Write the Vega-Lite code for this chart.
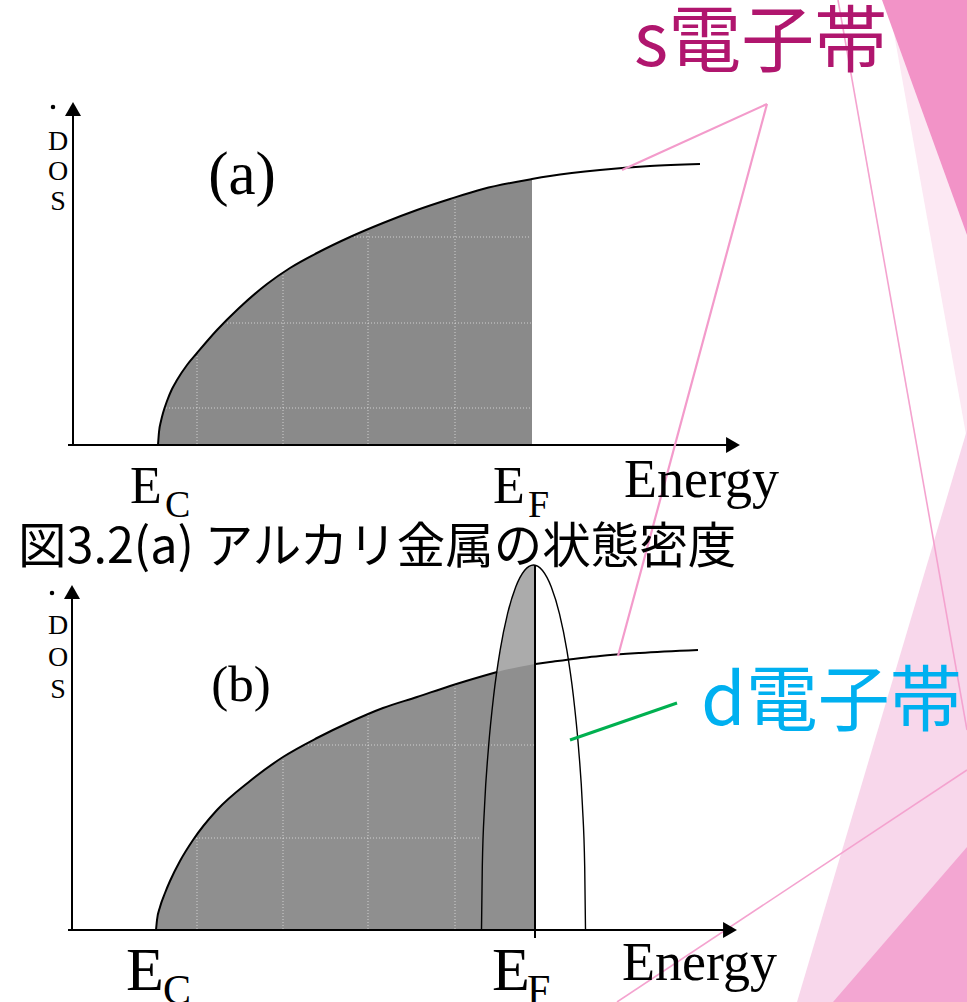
{
  "$schema": "https://vega.github.io/schema/vega-lite/v6.json",
  "width": 967,
  "height": 1002,
  "padding": 0,
  "autosize": {"type": "none"},
  "background": "white",
  "config": {"view": {"stroke": null}},
  "datasets": {
    "bg": [
      {"shape": "lt", "x": 888, "y": 0, "y2": 0},
      {"shape": "lt", "x": 967, "y": 0, "y2": 440},
      {"shape": "dt", "x": 882, "y": 0, "y2": 0},
      {"shape": "dt", "x": 967, "y": 0, "y2": 235},
      {"shape": "mb", "x": 797, "y": 1002, "y2": 1002},
      {"shape": "mb", "x": 967, "y": 430, "y2": 1002},
      {"shape": "db", "x": 833, "y": 1002, "y2": 1002},
      {"shape": "db", "x": 967, "y": 847, "y2": 1002}
    ],
    "segs": [
      {"kind": "bg", "x": 838, "y": 0, "x2": 967, "y2": 730},
      {"kind": "bg", "x": 617, "y": 1002, "x2": 967, "y2": 770},
      {"kind": "ann", "x": 767, "y": 104, "x2": 622, "y2": 170},
      {"kind": "ann", "x": 767, "y": 104, "x2": 618, "y2": 656},
      {"kind": "green", "x": 570, "y": 740, "x2": 677, "y2": 703},
      {"kind": "axis", "x": 73, "y": 445, "x2": 73, "y2": 112},
      {"kind": "axis", "x": 68, "y": 445, "x2": 730, "y2": 445},
      {"kind": "axis", "x": 72, "y": 930, "x2": 72, "y2": 598},
      {"kind": "axis", "x": 68, "y": 930, "x2": 727, "y2": 930},
      {"kind": "axis", "x": 535, "y": 565, "x2": 535, "y2": 938},
      {"kind": "grid", "x": 197, "y": 444, "x2": 197, "y2": 354},
      {"kind": "grid", "x": 283, "y": 444, "x2": 283, "y2": 274},
      {"kind": "grid", "x": 368, "y": 444, "x2": 368, "y2": 231},
      {"kind": "grid", "x": 455, "y": 444, "x2": 455, "y2": 199},
      {"kind": "grid", "x": 351, "y": 237, "x2": 531, "y2": 237},
      {"kind": "grid", "x": 224, "y": 323, "x2": 531, "y2": 323},
      {"kind": "grid", "x": 166, "y": 408, "x2": 531, "y2": 408},
      {"kind": "grid", "x": 197, "y": 929, "x2": 197, "y2": 837},
      {"kind": "grid", "x": 283, "y": 929, "x2": 283, "y2": 758},
      {"kind": "grid", "x": 368, "y": 929, "x2": 368, "y2": 715},
      {"kind": "grid", "x": 455, "y": 929, "x2": 455, "y2": 685},
      {"kind": "grid", "x": 305, "y": 745, "x2": 534, "y2": 745},
      {"kind": "grid", "x": 196, "y": 838, "x2": 481, "y2": 838}
    ],
    "arrows": [
      {"x": 73, "y": 109, "dir": "up"},
      {"x": 733, "y": 445, "dir": "right"},
      {"x": 72, "y": 592, "dir": "up"},
      {"x": 730, "y": 930, "dir": "right"}
    ],
    "dots": [
      {"x": 53, "y": 107},
      {"x": 52, "y": 593}
    ],
    "sa": [
      {"x": 158, "y": 445}, {"x": 159, "y": 432}, {"x": 161, "y": 421},
      {"x": 163, "y": 413}, {"x": 167, "y": 401}, {"x": 172, "y": 389},
      {"x": 177, "y": 380}, {"x": 187, "y": 365}, {"x": 197, "y": 353},
      {"x": 217, "y": 330}, {"x": 238, "y": 309}, {"x": 267, "y": 284},
      {"x": 290, "y": 268}, {"x": 317, "y": 253}, {"x": 350, "y": 237},
      {"x": 383, "y": 223}, {"x": 417, "y": 210}, {"x": 450, "y": 199},
      {"x": 483, "y": 189}, {"x": 532, "y": 179}, {"x": 550, "y": 176},
      {"x": 600, "y": 170}, {"x": 650, "y": 166}, {"x": 700, "y": 164}
    ],
    "sb": [
      {"x": 156, "y": 930}, {"x": 157, "y": 920}, {"x": 160, "y": 907},
      {"x": 165, "y": 893}, {"x": 170, "y": 881}, {"x": 180, "y": 861},
      {"x": 193, "y": 840}, {"x": 217, "y": 810}, {"x": 250, "y": 781},
      {"x": 283, "y": 757}, {"x": 317, "y": 738}, {"x": 350, "y": 722},
      {"x": 383, "y": 708}, {"x": 417, "y": 697}, {"x": 450, "y": 686},
      {"x": 483, "y": 676}, {"x": 497, "y": 672}, {"x": 535, "y": 664},
      {"x": 550, "y": 662}, {"x": 600, "y": 656}, {"x": 640, "y": 653},
      {"x": 698, "y": 650}
    ],
    "db": [
      {"x": 481.5, "y": 930}, {"x": 482.3, "y": 866.6}, {"x": 484.6, "y": 805.2},
      {"x": 488.5, "y": 747.5}, {"x": 493.7, "y": 695.4}, {"x": 500.1, "y": 650.4},
      {"x": 507.5, "y": 613.9}, {"x": 515.7, "y": 587.0}, {"x": 524.5, "y": 570.5},
      {"x": 529.0, "y": 566.4}, {"x": 533.5, "y": 565.0}, {"x": 535.0, "y": 565.2},
      {"x": 538.0, "y": 566.4}, {"x": 542.5, "y": 570.5}, {"x": 551.3, "y": 587.0},
      {"x": 559.5, "y": 613.9}, {"x": 566.9, "y": 650.4}, {"x": 573.3, "y": 695.4},
      {"x": 578.5, "y": 747.5}, {"x": 582.4, "y": 805.2}, {"x": 584.7, "y": 866.6},
      {"x": 585.5, "y": 930}
    ],
    "texts": [
      {"t": "D", "x": 58, "y": 142, "role": "dos"},
      {"t": "O", "x": 58, "y": 172, "role": "dos"},
      {"t": "S", "x": 58, "y": 202, "role": "dos"},
      {"t": "D", "x": 58, "y": 626, "role": "dos"},
      {"t": "O", "x": 58, "y": 658, "role": "dos"},
      {"t": "S", "x": 58, "y": 690, "role": "dos"},
      {"t": "(a)", "x": 242, "y": 176, "role": "pa"},
      {"t": "(b)", "x": 241, "y": 686, "role": "pb"},
      {"t": "E", "x": 130, "y": 503, "role": "Ea"},
      {"t": "C", "x": 165, "y": 517, "role": "subA"},
      {"t": "E", "x": 493, "y": 503, "role": "Ea"},
      {"t": "F", "x": 528, "y": 517, "role": "subA"},
      {"t": "Energy", "x": 624, "y": 497, "role": "en"},
      {"t": "Energy", "x": 622, "y": 980, "role": "en"},
      {"t": "E", "x": 126, "y": 990, "role": "Eb"},
      {"t": "C", "x": 163, "y": 1004, "role": "subB"},
      {"t": "E", "x": 492, "y": 990, "role": "Eb"},
      {"t": "F", "x": 527, "y": 1004, "role": "subB"},
      {"t": "図3.2(a) アルカリ金属の状態密度", "x": 18, "y": 563, "role": "cap"},
      {"t": "s電子帯", "x": 634, "y": 66, "role": "s"},
      {"t": "d電子帯", "x": 701, "y": 725, "role": "d"}
    ]
  },
  "encoding": {
    "x": {"field": "x", "type": "quantitative", "scale": {"domain": [0, 967], "nice": false, "zero": false}, "axis": null},
    "y": {"field": "y", "type": "quantitative", "scale": {"domain": [0, 1002], "nice": false, "zero": false, "reverse": true}, "axis": null}
  },
  "layer": [
    {"data": {"name": "bg"}, "transform": [{"filter": "datum.shape === 'lt'"}], "mark": {"type": "area", "color": "#fce8f3"}, "encoding": {"y2": {"field": "y2"}}},
    {"data": {"name": "bg"}, "transform": [{"filter": "datum.shape === 'dt'"}], "mark": {"type": "area", "color": "#f293c7"}, "encoding": {"y2": {"field": "y2"}}},
    {"data": {"name": "bg"}, "transform": [{"filter": "datum.shape === 'mb'"}], "mark": {"type": "area", "color": "#f8d7eb"}, "encoding": {"y2": {"field": "y2"}}},
    {"data": {"name": "bg"}, "transform": [{"filter": "datum.shape === 'db'"}], "mark": {"type": "area", "color": "#f3a6d2"}, "encoding": {"y2": {"field": "y2"}}},
    {"data": {"name": "segs"}, "transform": [{"filter": "datum.kind === 'bg'"}], "mark": {"type": "rule", "color": "#f4a3cf", "strokeWidth": 1.6}, "encoding": {"x2": {"field": "x2"}, "y2": {"field": "y2"}}},
    {"data": {"name": "db"}, "transform": [{"filter": "datum.x <= 535"}], "mark": {"type": "area", "color": "#ababab", "interpolate": "monotone"}, "encoding": {"y2": {"datum": 930}}},
    {"data": {"name": "sa"}, "transform": [{"filter": "datum.x <= 532"}], "mark": {"type": "area", "color": "#8a8a8a", "interpolate": "monotone"}, "encoding": {"y2": {"datum": 445}}},
    {"data": {"name": "sb"}, "transform": [{"filter": "datum.x <= 535"}], "mark": {"type": "area", "color": "#8f8f8f", "interpolate": "monotone"}, "encoding": {"y2": {"datum": 930}}},
    {"data": {"name": "segs"}, "transform": [{"filter": "datum.kind === 'grid'"}], "mark": {"type": "rule", "color": "white", "strokeWidth": 1, "strokeDash": [1, 2], "opacity": 0.6}, "encoding": {"x2": {"field": "x2"}, "y2": {"field": "y2"}}},
    {"data": {"name": "sa"}, "mark": {"type": "line", "color": "black", "strokeWidth": 2, "interpolate": "monotone"}, "encoding": {}},
    {"data": {"name": "sb"}, "transform": [{"filter": "datum.x <= 497"}], "mark": {"type": "line", "color": "black", "strokeWidth": 2, "interpolate": "monotone"}, "encoding": {}},
    {"data": {"name": "sb"}, "transform": [{"filter": "datum.x >= 535"}], "mark": {"type": "line", "color": "black", "strokeWidth": 2, "interpolate": "monotone"}, "encoding": {}},
    {"data": {"name": "db"}, "mark": {"type": "line", "color": "black", "strokeWidth": 1.4, "interpolate": "monotone"}, "encoding": {}},
    {"data": {"name": "segs"}, "transform": [{"filter": "datum.kind === 'axis'"}], "mark": {"type": "rule", "color": "black", "strokeWidth": 2}, "encoding": {"x2": {"field": "x2"}, "y2": {"field": "y2"}}},
    {"data": {"name": "arrows"}, "mark": {"type": "point", "filled": true, "color": "black", "opacity": 1, "size": 256},
      "encoding": {"shape": {"field": "dir", "type": "nominal", "scale": {"domain": ["up", "right"], "range": ["triangle-up", "triangle-right"]}, "legend": null}}},
    {"data": {"name": "dots"}, "mark": {"type": "circle", "color": "black", "opacity": 1, "size": 20}, "encoding": {}},
    {"data": {"name": "segs"}, "transform": [{"filter": "datum.kind === 'ann'"}], "mark": {"type": "rule", "color": "#f39bcb", "strokeWidth": 2.2}, "encoding": {"x2": {"field": "x2"}, "y2": {"field": "y2"}}},
    {"data": {"name": "segs"}, "transform": [{"filter": "datum.kind === 'green'"}], "mark": {"type": "rule", "color": "#00b050", "strokeWidth": 3}, "encoding": {"x2": {"field": "x2"}, "y2": {"field": "y2"}}},
    {"data": {"name": "texts"}, "transform": [{"filter": "datum.role === 'dos'"}],
      "mark": {"type": "text", "font": "Liberation Serif", "fontSize": 28, "color": "black", "align": "center", "baseline": "middle"},
      "encoding": {"text": {"field": "t"}}},
    {"data": {"name": "texts"}, "transform": [{"filter": "datum.role === 'pa'"}],
      "mark": {"type": "text", "font": "Liberation Serif", "fontSize": 61, "color": "black", "align": "center", "baseline": "middle"},
      "encoding": {"text": {"field": "t"}}},
    {"data": {"name": "texts"}, "transform": [{"filter": "datum.role === 'pb'"}],
      "mark": {"type": "text", "font": "Liberation Serif", "fontSize": 51, "color": "black", "align": "center", "baseline": "middle"},
      "encoding": {"text": {"field": "t"}}},
    {"data": {"name": "texts"}, "transform": [{"filter": "datum.role === 'Ea'"}],
      "mark": {"type": "text", "font": "Liberation Serif", "fontSize": 52, "color": "black", "align": "left", "baseline": "alphabetic"},
      "encoding": {"text": {"field": "t"}}},
    {"data": {"name": "texts"}, "transform": [{"filter": "datum.role === 'subA'"}],
      "mark": {"type": "text", "font": "Liberation Serif", "fontSize": 38, "color": "black", "align": "left", "baseline": "alphabetic"},
      "encoding": {"text": {"field": "t"}}},
    {"data": {"name": "texts"}, "transform": [{"filter": "datum.role === 'Eb'"}],
      "mark": {"type": "text", "font": "Liberation Serif", "fontSize": 62, "color": "black", "align": "left", "baseline": "alphabetic"},
      "encoding": {"text": {"field": "t"}}},
    {"data": {"name": "texts"}, "transform": [{"filter": "datum.role === 'subB'"}],
      "mark": {"type": "text", "font": "Liberation Serif", "fontSize": 42, "color": "black", "align": "left", "baseline": "alphabetic"},
      "encoding": {"text": {"field": "t"}}},
    {"data": {"name": "texts"}, "transform": [{"filter": "datum.role === 'en'"}],
      "mark": {"type": "text", "font": "Liberation Serif", "fontSize": 54, "color": "black", "align": "left", "baseline": "alphabetic"},
      "encoding": {"text": {"field": "t"}}},
    {"data": {"name": "texts"}, "transform": [{"filter": "datum.role === 'cap'"}],
      "mark": {"type": "text", "font": "Noto Sans CJK JP", "fontSize": 48.5, "color": "black", "align": "left", "baseline": "alphabetic"},
      "encoding": {"text": {"field": "t"}}},
    {"data": {"name": "texts"}, "transform": [{"filter": "datum.role === 's'"}],
      "mark": {"type": "text", "font": "Noto Sans CJK JP", "fontSize": 73, "color": "#b0166e", "align": "left", "baseline": "alphabetic"},
      "encoding": {"text": {"field": "t"}}},
    {"data": {"name": "texts"}, "transform": [{"filter": "datum.role === 'd'"}],
      "mark": {"type": "text", "font": "Noto Sans CJK JP", "fontSize": 72, "color": "#00b0f0", "align": "left", "baseline": "alphabetic"},
      "encoding": {"text": {"field": "t"}}}
  ]
}
